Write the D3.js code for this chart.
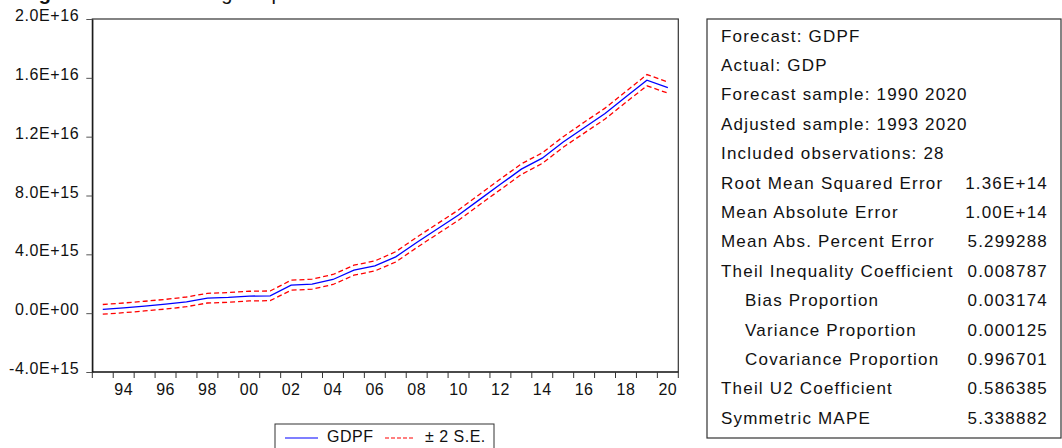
<!DOCTYPE html>
<html>
<head>
<meta charset="utf-8">
<script src="https://cdn.jsdelivr.net/npm/d3@7"></script>
<style>
	body { margin: 0; background: #fff; }
	svg { font-family: "Liberation Sans", Arial, sans-serif; }
</style>
</head>
<body>
<svg id="svg_main" width="1062" height="448"></svg>
<script>
// values in units of 1E+15
var years = [1993, 1994, 1995, 1996, 1997, 1998, 1999, 2000, 2001, 2002, 2003, 2004, 2005, 2006,
	2007, 2008, 2009, 2010, 2011, 2012, 2013, 2014, 2015, 2016, 2017, 2018, 2019, 2020];
var gdpf = [0.26, 0.36, 0.48, 0.61, 0.77, 1.02, 1.07, 1.16, 1.18, 1.90, 1.97, 2.29, 2.92, 3.21,
	3.83, 4.81, 5.74, 6.67, 7.72, 8.76, 9.79, 10.54, 11.64, 12.61, 13.57, 14.71, 15.84, 15.34];
var upper = [0.59, 0.69, 0.81, 0.94, 1.10, 1.35, 1.40, 1.49, 1.51, 2.24, 2.31, 2.63, 3.26, 3.55,
	4.18, 5.16, 6.09, 7.02, 8.07, 9.12, 10.15, 10.90, 12.00, 12.98, 13.94, 15.08, 16.22, 15.72];
var lower = [-0.07, 0.03, 0.15, 0.28, 0.44, 0.69, 0.74, 0.83, 0.85, 1.56, 1.63, 1.95, 2.58, 2.87,
	3.48, 4.46, 5.39, 6.32, 7.37, 8.40, 9.43, 10.18, 11.28, 12.24, 13.20, 14.34, 15.46, 14.96];

var yTicks = [-4, 0, 4, 8, 12, 16, 20];
var yLabels = ["-4.0E+15", "0.0E+00", "4.0E+15", "8.0E+15", "1.2E+16", "1.6E+16", "2.0E+16"];
var xLabelYears = [1994, 1996, 1998, 2000, 2002, 2004, 2006, 2008, 2010, 2012, 2014, 2016, 2018, 2020];

var statNames = ["Forecast: GDPF", "Actual: GDP", "Forecast sample: 1990 2020", "Adjusted sample: 1993 2020",
	"Included observations: 28", "Root Mean Squared Error", "Mean Absolute Error", "Mean Abs. Percent Error",
	"Theil Inequality Coefficient", "Bias Proportion", "Variance Proportion", "Covariance Proportion",
	"Theil U2 Coefficient", "Symmetric MAPE"];
var statValues = ["", "", "", "", "", "1.36E+14", "1.00E+14", "5.299288",
	"0.008787", "0.003174", "0.000125", "0.996701", "0.586385", "5.338882"];
var statIndent = [0, 0, 0, 0, 0, 0, 0, 0, 0, 1, 1, 1, 0, 0];

var legendNames = ["GDPF", "\u00b1 2 S.E."];

var margin = { top: 19, left: 92.3, right: 678.3, bottom: 372 };
var font = 16;

function main() {
	var svg = d3.select("#svg_main");

	// title, cut off at the top edge
	var title = svg.append("text")
		.attr("y", 0)
		.attr("font-size", "20px")
		.attr("fill", "#111");
	title.append("tspan").attr("x", 21).attr("font-weight", "bold").text("Figure");
	title.append("tspan").attr("x", 128).text("Forecasting Graph");

	var x = d3.scaleBand().range([margin.left, margin.right]).domain(years).padding(0),
		y = d3.scaleLinear().range([margin.bottom, margin.top]).domain([-4, 20]);

	// frame
	svg.append("rect")
		.attr("x", margin.left)
		.attr("y", margin.top)
		.attr("width", margin.right - margin.left)
		.attr("height", margin.bottom - margin.top)
		.attr("fill", "none")
		.attr("stroke", "#333")
		.attr("stroke-width", 1.2);

	var yAxis = d3.axisLeft(y).tickValues(yTicks).tickSize(6).tickSizeOuter(0)
		.tickFormat((d, i) => yLabels[i]);
	var gy = svg.append("g")
		.attr("class", "yAxis")
		.attr("transform", `translate(${margin.left}, 0)`)
		.call(yAxis);
	gy.select(".domain").attr("stroke", "#111").attr("stroke-width", 1.2);
	gy.selectAll(".tick line").attr("stroke", "#555");
	gy.selectAll(".tick text")
		.attr("x", -13)
		.attr("dy", "0.1em")
		.attr("font-size", font + "px")
		.attr("font-family", "\"Liberation Sans\", Arial, sans-serif")
		.attr("letter-spacing", "0.6px")
		.attr("fill", "#111");

	// x ticks at band edges, labels at band centres
	var edges = years.map(d => x(d)).concat([x(years[years.length - 1]) + x.bandwidth()]);
	var gx = svg.append("g").attr("class", "xAxis");
	gx.append("line")
		.attr("x1", margin.left).attr("x2", margin.right)
		.attr("y1", margin.bottom).attr("y2", margin.bottom)
		.attr("stroke", "#111").attr("stroke-width", 1.2);
	gx.selectAll(".xtick")
		.data(edges)
		.enter().append("line")
		.attr("class", "xtick")
		.attr("x1", d => d).attr("x2", d => d)
		.attr("y1", margin.bottom).attr("y2", margin.bottom + 6)
		.attr("stroke", "#333");
	gx.selectAll(".xlabel")
		.data(xLabelYears)
		.enter().append("text")
		.attr("class", "xlabel")
		.attr("x", d => x(d) + x.bandwidth() / 2)
		.attr("y", 395)
		.attr("text-anchor", "middle")
		.attr("font-size", font + "px")
		.attr("letter-spacing", "0.5px")
		.attr("fill", "#111")
		.text(d => String(d).slice(2));

	var line = arr => d3.line()
		.x((d, i) => x(years[i]) + x.bandwidth() / 2)
		.y(d => y(d))(arr);

	svg.append("path")
		.attr("d", line(upper))
		.attr("fill", "none")
		.attr("stroke", "#ff0000")
		.attr("stroke-width", 1.3)
		.attr("stroke-dasharray", "5,3");
	svg.append("path")
		.attr("d", line(lower))
		.attr("fill", "none")
		.attr("stroke", "#ff0000")
		.attr("stroke-width", 1.3)
		.attr("stroke-dasharray", "5,3");
	svg.append("path")
		.attr("d", line(gdpf))
		.attr("fill", "none")
		.attr("stroke", "#0000ff")
		.attr("stroke-width", 1.3);

	// legend
	var legend = svg.append("g").attr("class", "legend");
	legend.append("rect")
		.attr("x", 275).attr("y", 424)
		.attr("width", 219).attr("height", 40)
		.attr("fill", "#fff")
		.attr("stroke", "#333");
	legend.append("line")
		.attr("x1", 285).attr("x2", 318).attr("y1", 438).attr("y2", 438)
		.attr("stroke", "#0000ff").attr("stroke-width", 1.2);
	legend.append("text")
		.attr("x", 327).attr("y", 442)
		.attr("font-size", font + "px")
		.attr("letter-spacing", "0.5px")
		.attr("fill", "#111")
		.text(legendNames[0]);
	legend.append("line")
		.attr("x1", 385).attr("x2", 414).attr("y1", 438).attr("y2", 438)
		.attr("stroke", "#ff0000").attr("stroke-width", 1.2)
		.attr("stroke-dasharray", "4,2");
	legend.append("text")
		.attr("x", 425).attr("y", 442)
		.attr("font-size", font + "px")
		.attr("letter-spacing", "0.5px")
		.attr("fill", "#111")
		.text(legendNames[1]);

	// statistics panel
	var panel = svg.append("g").attr("class", "panel");
	panel.append("rect")
		.attr("x", 707).attr("y", 19)
		.attr("width", 354).attr("height", 419)
		.attr("fill", "#fff")
		.attr("stroke", "#333")
		.attr("stroke-width", 1.2);
	var rows = panel.selectAll(".row")
		.data(statNames)
		.enter().append("g")
		.attr("class", "row")
		.attr("transform", (d, i) => `translate(0, ${41.5 + i * 29.4})`);
	rows.append("text")
		.attr("x", (d, i) => statIndent[i] ? 745 : 721)
		.attr("font-size", "17px")
		.attr("letter-spacing", "1.2px")
		.attr("fill", "#111")
		.text(d => d);
	rows.append("text")
		.attr("x", 1048)
		.attr("text-anchor", "end")
		.attr("font-size", "17px")
		.attr("letter-spacing", "1.2px")
		.attr("fill", "#111")
		.text((d, i) => statValues[i]);
}

main();
</script>
</body>
</html>
